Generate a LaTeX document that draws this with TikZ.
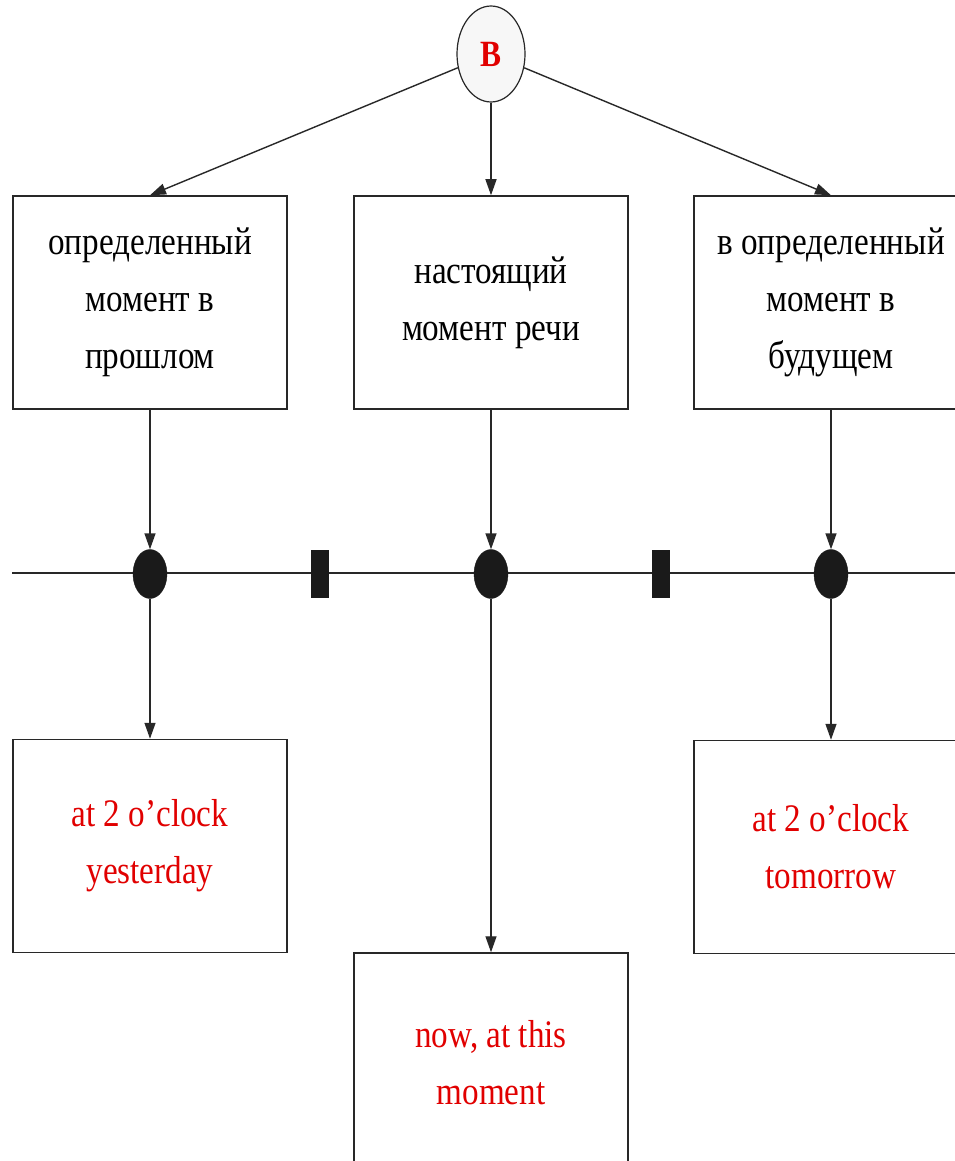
\documentclass[tikz,border=0pt]{standalone}
\usepackage{fontspec}
\setmainfont{Liberation Serif}[FakeStretch=0.85]
\usetikzlibrary{arrows.meta,shapes.geometric}
\definecolor{lineg}{RGB}{40,40,40}
\definecolor{txtred}{RGB}{225,0,0}
\definecolor{dotc}{RGB}{26,26,26}
\tikzset{
  conn/.style={draw=lineg, line width=1.4pt, -{Triangle[length=16pt,width=11pt]}},
  plain/.style={draw=lineg, line width=1.4pt},
  boxnode/.style={draw=lineg, line width=1.5pt, fill=white, rectangle, inner sep=0pt,
     minimum width=274pt, minimum height=213pt, align=center,
     font=\fontsize{39}{57}\selectfont},
  redbox/.style={boxnode, text=txtred},
  dotnode/.style={ellipse, fill=dotc, draw=dotc, inner sep=0pt, minimum width=34pt, minimum height=49pt},
  barnode/.style={rectangle, fill=dotc, draw=dotc, inner sep=0pt, minimum width=17pt, minimum height=47pt},
  topnode/.style={ellipse, draw=lineg, line width=1.2pt, fill=black!3, inner sep=0pt,
     minimum width=68pt, minimum height=96pt, text=txtred, font=\fontsize{37}{40}\selectfont\bfseries}
}
\begin{document}
\begin{tikzpicture}[x=1pt,y=-1pt]
\useasboundingbox (0,0) rectangle (954,1161);
\fill[white] (0,0) rectangle (954,1161);
% timeline
\coordinate (tl) at (12,573);
\coordinate (tr) at (960,573);
\draw[plain] (tl) -- (tr);
% top
\node[topnode] (B) at (491,54) {B};
% upper boxes
\node[boxnode] (L1) at (150,302.5) {определенный\\момент в\\прошлом};
\node[boxnode] (M1) at (491,302.5) {настоящий\\момент речи};
\node[boxnode] (R1) at (831,302.5) {в определенный\\момент в\\будущем};
% markers
\node[dotnode] (D1) at (150,574) {};
\node[dotnode] (D2) at (491,574) {};
\node[dotnode] (D3) at (831,574) {};
\node[barnode] (K1) at (320,574) {};
\node[barnode] (K2) at (661,574) {};
% lower boxes
\node[redbox] (L2) at (150,846) {at 2 o’clock\\yesterday};
\node[redbox] (R2) at (831,847) {at 2 o’clock\\tomorrow};
\node[redbox, minimum height=220pt] (M2) at (491,1063) {now, at this\\moment};
% connectors
\draw[conn] (B) -- (L1.north);
\draw[conn] (B) -- (M1.north);
\draw[conn] (B) -- (R1.north);
\draw[conn] (L1.south) -- (D1.north);
\draw[conn] (M1.south) -- (D2.north);
\draw[conn] (R1.south) -- (D3.north);
\draw[conn] (D1.south) -- (L2.north);
\draw[conn] (D2.south) -- (M2.north);
\draw[conn] (D3.south) -- (R2.north);
\end{tikzpicture}
\end{document}
